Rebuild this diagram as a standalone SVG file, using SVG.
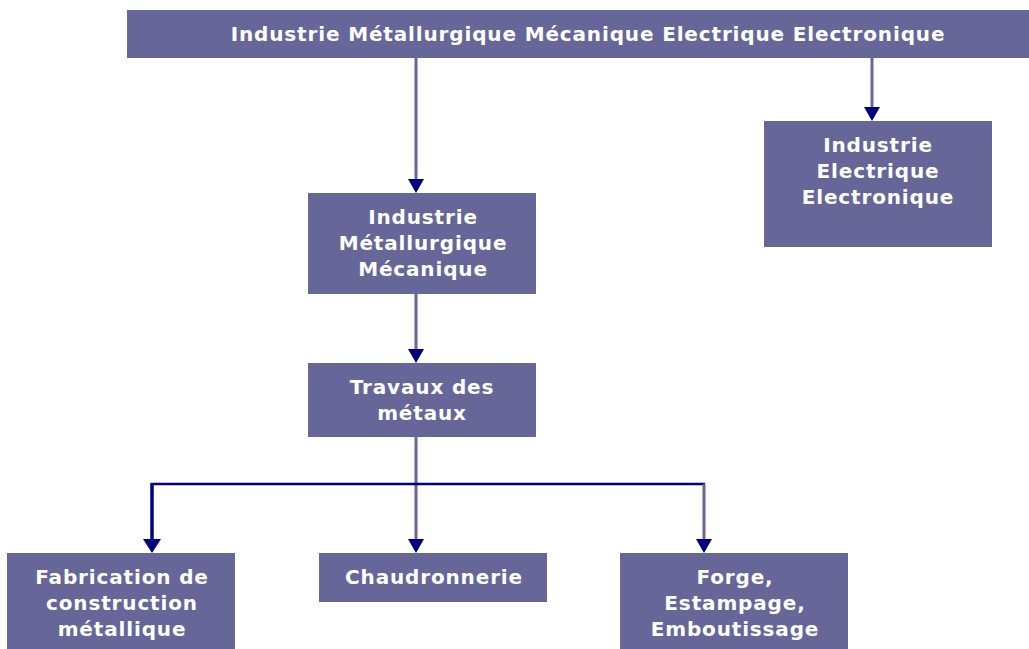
<svg xmlns="http://www.w3.org/2000/svg" width="1029" height="649" viewBox="0 0 1029 649">
<style>
.box{fill:#666699;}
.t{font-family:"DejaVu Sans",sans-serif;font-weight:bold;font-size:20px;letter-spacing:0.85px;fill:#ffffff;text-anchor:middle;}
.ln{stroke:#666699;stroke-width:3;fill:none;}
.nv{stroke:#000080;fill:none;}
.ah{fill:#000080;}
</style>
<rect width="1029" height="649" fill="#ffffff"/>
<g id="connectors">
<line class="ln" x1="416" y1="58" x2="416" y2="182"/>
<polygon class="ah" points="408,179 424,179 416,193"/>
<line class="ln" x1="872" y1="58" x2="872" y2="110"/>
<polygon class="ah" points="864,107 880,107 872,121"/>
<line class="ln" x1="416" y1="294" x2="416" y2="352"/>
<polygon class="ah" points="408,349 424,349 416,363"/>
<line class="ln" x1="416" y1="437" x2="416" y2="542"/>
<polygon class="ah" points="408,539 424,539 416,553"/>
<line class="nv" stroke-width="2.5" x1="151" y1="484" x2="705" y2="484"/>
<line class="nv" stroke-width="3.5" x1="152" y1="483" x2="152" y2="542"/>
<polygon class="ah" points="143,539 161,539 152,553"/>
<line class="ln" x1="704" y1="484" x2="704" y2="542"/>
<polygon class="ah" points="696,539 712,539 704,553"/>
</g>
<g id="top">
<rect class="box" x="127" y="10" width="902" height="48"/>
<text class="t" x="588" y="41">Industrie Métallurgique Mécanique Electrique Electronique</text>
</g>
<g id="elec">
<rect class="box" x="764" y="121" width="228" height="126"/>
<text class="t" x="878" y="152">Industrie</text>
<text class="t" x="878" y="178">Electrique</text>
<text class="t" x="878" y="204">Electronique</text>
</g>
<g id="meca">
<rect class="box" x="308" y="193" width="228" height="101"/>
<text class="t" x="423" y="224">Industrie</text>
<text class="t" x="423" y="250">Métallurgique</text>
<text class="t" x="423" y="276">Mécanique</text>
</g>
<g id="travaux">
<rect class="box" x="308" y="363" width="228" height="74"/>
<text class="t" x="422" y="394">Travaux des</text>
<text class="t" x="422" y="420">métaux</text>
</g>
<g id="fabrication">
<rect class="box" x="7" y="553" width="228" height="100"/>
<text class="t" x="122" y="584">Fabrication de</text>
<text class="t" x="122" y="610">construction</text>
<text class="t" x="122" y="636">métallique</text>
</g>
<g id="chaudronnerie">
<rect class="box" x="319" y="553" width="228" height="49"/>
<text class="t" x="434" y="584">Chaudronnerie</text>
</g>
<g id="forge">
<rect class="box" x="620" y="553" width="228" height="100"/>
<text class="t" x="735" y="584">Forge,</text>
<text class="t" x="735" y="610">Estampage,</text>
<text class="t" x="735" y="636">Emboutissage</text>
</g>
</svg>
